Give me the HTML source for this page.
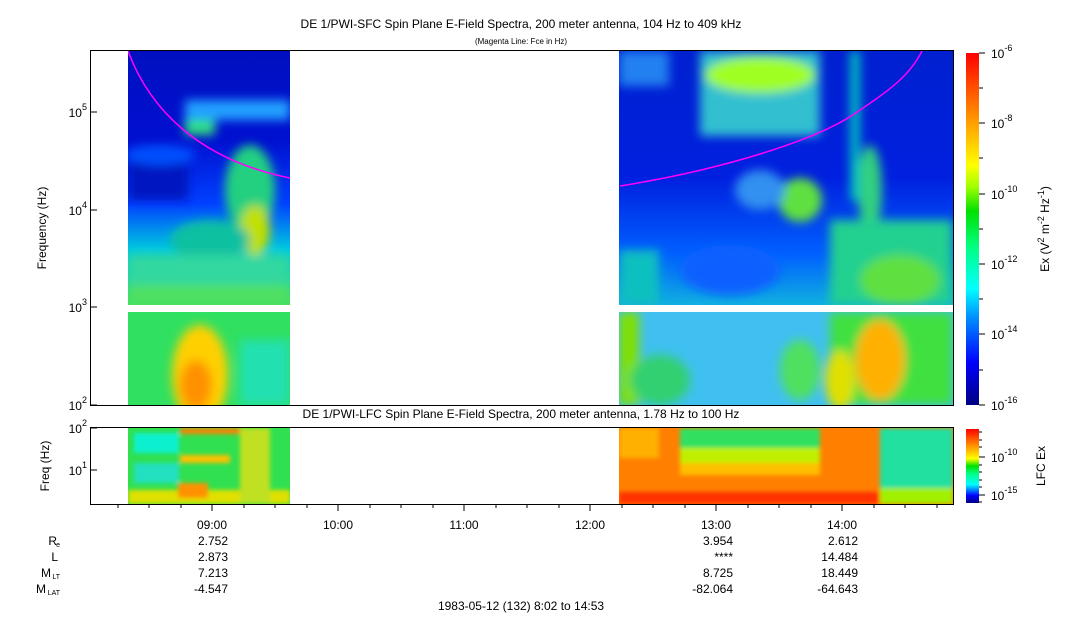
<!DOCTYPE html>
<html><head><meta charset="utf-8"><style>
body{margin:0;background:#fff;}
svg{display:block;font-family:"Liberation Sans",Arial,sans-serif;}
</style></head><body>
<svg width="1083" height="620" viewBox="0 0 1083 620" xmlns="http://www.w3.org/2000/svg">
<defs>
<filter id="b" x="-20%" y="-20%" width="140%" height="140%"><feGaussianBlur stdDeviation="5"/></filter>
<filter id="b2" x="-20%" y="-20%" width="140%" height="140%"><feGaussianBlur stdDeviation="2"/></filter>
<clipPath id="cL1"><rect x="128" y="51" width="162" height="254"/></clipPath>
<clipPath id="cL2"><rect x="128" y="312" width="162" height="93"/></clipPath>
<clipPath id="cR1"><rect x="619" y="51" width="334" height="254"/></clipPath>
<clipPath id="cR2"><rect x="619" y="312" width="334" height="93"/></clipPath>
<clipPath id="cLL"><rect x="128" y="428" width="162" height="76"/></clipPath>
<clipPath id="cRL"><rect x="619" y="428" width="334" height="76"/></clipPath>
<linearGradient id="cb" x1="0" y1="1" x2="0" y2="0">
<stop offset="0" stop-color="#000080"/><stop offset="0.12" stop-color="#0000ff"/>
<stop offset="0.25" stop-color="#0090ff"/><stop offset="0.33" stop-color="#00ffff"/>
<stop offset="0.45" stop-color="#00ff80"/><stop offset="0.55" stop-color="#00e000"/>
<stop offset="0.62" stop-color="#a0ff00"/><stop offset="0.68" stop-color="#ffff00"/>
<stop offset="0.8" stop-color="#ffa000"/><stop offset="1" stop-color="#ff0000"/>
</linearGradient>
<linearGradient id="cb2" x1="0" y1="1" x2="0" y2="0">
<stop offset="0" stop-color="#000080"/><stop offset="0.1" stop-color="#0000ff"/>
<stop offset="0.25" stop-color="#00ffff"/><stop offset="0.4" stop-color="#00ff80"/>
<stop offset="0.5" stop-color="#00e000"/><stop offset="0.6" stop-color="#ffff00"/>
<stop offset="0.8" stop-color="#ff8000"/><stop offset="1" stop-color="#ff0000"/>
</linearGradient>
<linearGradient id="gL1" x1="0" y1="0" x2="0" y2="1">
<stop offset="0" stop-color="#0010c0"/><stop offset="0.35" stop-color="#0010d0"/>
<stop offset="0.6" stop-color="#0040ff"/><stop offset="0.78" stop-color="#00c8e0"/><stop offset="1" stop-color="#40e060"/>
</linearGradient>
<linearGradient id="gR1" x1="0" y1="0" x2="0" y2="1">
<stop offset="0" stop-color="#0020d0"/><stop offset="0.5" stop-color="#0020e0"/>
<stop offset="0.8" stop-color="#0060ff"/><stop offset="1" stop-color="#10b0e0"/>
</linearGradient>
</defs>

<text x="521" y="28" font-size="12" text-anchor="middle">DE 1/PWI-SFC  Spin Plane E-Field Spectra, 200 meter antenna, 104 Hz to 409 kHz</text>
<text x="521" y="44" font-size="8" text-anchor="middle">(Magenta Line: Fce in Hz)</text>
<text x="521" y="418" font-size="12" text-anchor="middle">DE 1/PWI-LFC  Spin Plane E-Field Spectra, 200 meter antenna, 1.78 Hz to 100 Hz</text>

<g clip-path="url(#cL1)">
<rect x="128" y="51" width="162" height="254" fill="url(#gL1)"/>
<g filter="url(#b)">
<rect x="185" y="100" width="105" height="20" fill="#20a0ff"/>
<rect x="185" y="120" width="30" height="15" fill="#30e080"/>
<ellipse cx="250" cy="190" rx="25" ry="45" fill="#20d080"/>
<ellipse cx="255" cy="230" rx="15" ry="25" fill="#c0e000"/>
<ellipse cx="210" cy="240" rx="40" ry="20" fill="#10c0a0"/>
<rect x="128" y="255" width="162" height="50" fill="#30d8a0"/>
<rect x="128" y="285" width="162" height="20" fill="#50e060"/>
<rect x="128" y="160" width="60" height="40" fill="#0018c0"/>
<ellipse cx="160" cy="155" rx="35" ry="10" fill="#0050ff"/>
</g>
<path d="M128,51 C150,110 200,160 290,178" stroke="#ff00ff" stroke-width="1.5" fill="none"/>
</g>
<g clip-path="url(#cL2)">
<rect x="128" y="312" width="162" height="93" fill="#30e060"/>
<g filter="url(#b)">
<ellipse cx="200" cy="375" rx="28" ry="50" fill="#ffd000"/>
<ellipse cx="196" cy="385" rx="16" ry="25" fill="#ff9000"/>
<rect x="240" y="340" width="50" height="65" fill="#20e0b0"/>
</g>
</g>

<g clip-path="url(#cR1)">
<rect x="619" y="51" width="334" height="254" fill="url(#gR1)"/>
<g filter="url(#b)">
<rect x="700" y="51" width="120" height="85" fill="#30c0d0"/>
<ellipse cx="760" cy="75" rx="55" ry="18" fill="#a0ff20"/>
<rect x="619" y="51" width="50" height="35" fill="#2080f0"/>
<ellipse cx="800" cy="200" rx="22" ry="22" fill="#60e040"/>
<ellipse cx="870" cy="190" rx="12" ry="45" fill="#30d080"/>
<ellipse cx="760" cy="190" rx="25" ry="20" fill="#3090f0"/>
<rect x="619" y="250" width="40" height="55" fill="#10c0c0"/>
<rect x="830" y="220" width="123" height="85" fill="#20d090"/>
<ellipse cx="900" cy="280" rx="40" ry="25" fill="#60e040"/>
<rect x="850" y="51" width="10" height="150" fill="#00c0c0"/>
<ellipse cx="730" cy="270" rx="50" ry="25" fill="#1060ff"/>
</g>
<path d="M620,186 C720,170 820,140 860,110 C890,90 910,75 922,51" stroke="#ff00ff" stroke-width="1.5" fill="none"/>
</g>
<g clip-path="url(#cR2)">
<rect x="619" y="312" width="334" height="93" fill="#40c0f0"/>
<g filter="url(#b)">
<rect x="619" y="312" width="20" height="93" fill="#80e000"/>
<ellipse cx="660" cy="380" rx="30" ry="25" fill="#30d070"/>
<rect x="830" y="312" width="123" height="93" fill="#40e040"/>
<ellipse cx="880" cy="360" rx="25" ry="40" fill="#ffb000"/>
<ellipse cx="840" cy="380" rx="15" ry="30" fill="#e0e000"/>
<ellipse cx="800" cy="370" rx="20" ry="30" fill="#50e060"/>
</g>
</g>
<rect x="128" y="305" width="825" height="7" fill="#fff"/>

<g clip-path="url(#cLL)">
<rect x="128" y="428" width="162" height="76" fill="#30e050"/>
<g filter="url(#b2)">
<rect x="134" y="433" width="45" height="20" fill="#10f0d0"/>
<rect x="134" y="463" width="45" height="20" fill="#20e0c0"/>
<rect x="180" y="428" width="60" height="6" fill="#ff8000"/>
<rect x="180" y="455" width="50" height="8" fill="#ffc000"/>
<rect x="128" y="490" width="162" height="14" fill="#e0e000"/>
<rect x="240" y="428" width="30" height="76" fill="#c0e020"/>
<rect x="178" y="483" width="30" height="15" fill="#ff9000"/>
</g>
</g>
<g clip-path="url(#cRL)">
<rect x="619" y="428" width="334" height="76" fill="#ff8000"/>
<g filter="url(#b2)">
<rect x="680" y="428" width="140" height="20" fill="#30e060"/>
<rect x="680" y="448" width="140" height="15" fill="#c0f000"/>
<rect x="680" y="463" width="140" height="12" fill="#ffc000"/>
<rect x="619" y="492" width="265" height="12" fill="#ff3000"/>
<rect x="880" y="428" width="73" height="76" fill="#20e0a0"/>
<rect x="880" y="488" width="73" height="16" fill="#a0f000"/>
<rect x="619" y="428" width="40" height="30" fill="#ffb000"/>
</g>
</g>

<rect x="90.5" y="50.5" width="863" height="355" fill="none" stroke="#000"/>
<rect x="90.5" y="427.5" width="863" height="77" fill="none" stroke="#000"/>

<g stroke="#000">
<line x1="90" y1="405" x2="97" y2="405"/><line x1="90" y1="307" x2="97" y2="307"/>
<line x1="90" y1="210" x2="97" y2="210"/><line x1="90" y1="112" x2="97" y2="112"/>
<line x1="90" y1="428" x2="97" y2="428"/><line x1="90" y1="470" x2="97" y2="470"/>
</g>
<g font-size="12" text-anchor="end">
<text x="87" y="410">10<tspan font-size="9" dy="-7">2</tspan></text>
<text x="87" y="312">10<tspan font-size="9" dy="-7">3</tspan></text>
<text x="87" y="215">10<tspan font-size="9" dy="-7">4</tspan></text>
<text x="87" y="117">10<tspan font-size="9" dy="-7">5</tspan></text>
<text x="87" y="433">10<tspan font-size="9" dy="-7">2</tspan></text>
<text x="87" y="475">10<tspan font-size="9" dy="-7">1</tspan></text>
</g>
<text transform="translate(46,228) rotate(-90)" font-size="12" text-anchor="middle">Frequency (Hz)</text>
<text transform="translate(49,466) rotate(-90)" font-size="12" text-anchor="middle">Freq (Hz)</text>

<g stroke="#000">
<line x1="118" y1="505" x2="118" y2="508"/><line x1="149" y1="505" x2="149" y2="508"/><line x1="181" y1="505" x2="181" y2="508"/>
<line x1="212" y1="505" x2="212" y2="511"/><line x1="244" y1="505" x2="244" y2="508"/><line x1="275" y1="505" x2="275" y2="508"/><line x1="307" y1="505" x2="307" y2="508"/>
<line x1="338" y1="505" x2="338" y2="511"/><line x1="370" y1="505" x2="370" y2="508"/><line x1="401" y1="505" x2="401" y2="508"/><line x1="433" y1="505" x2="433" y2="508"/>
<line x1="464" y1="505" x2="464" y2="511"/><line x1="496" y1="505" x2="496" y2="508"/><line x1="527" y1="505" x2="527" y2="508"/><line x1="559" y1="505" x2="559" y2="508"/>
<line x1="590" y1="505" x2="590" y2="511"/><line x1="622" y1="505" x2="622" y2="508"/><line x1="653" y1="505" x2="653" y2="508"/><line x1="685" y1="505" x2="685" y2="508"/>
<line x1="716" y1="505" x2="716" y2="511"/><line x1="748" y1="505" x2="748" y2="508"/><line x1="779" y1="505" x2="779" y2="508"/><line x1="811" y1="505" x2="811" y2="508"/>
<line x1="842" y1="505" x2="842" y2="511"/><line x1="874" y1="505" x2="874" y2="508"/><line x1="905" y1="505" x2="905" y2="508"/><line x1="937" y1="505" x2="937" y2="508"/>
</g>
<g font-size="12" text-anchor="middle">
<text x="212" y="529">09:00</text><text x="338" y="529">10:00</text><text x="464" y="529">11:00</text>
<text x="590" y="529">12:00</text><text x="716" y="529">13:00</text><text x="842" y="529">14:00</text>
</g>
<g font-size="12" text-anchor="end">
<text x="57" y="545">R</text><text x="60" y="547" font-size="7">e</text>
<text x="58" y="561">L</text>
<text x="51" y="577">M</text><text x="60" y="579" font-size="7">LT</text>
<text x="46" y="593">M</text><text x="60" y="595" font-size="7">LAT</text>
<text x="228" y="545">2.752</text><text x="228" y="561">2.873</text><text x="228" y="577">7.213</text><text x="228" y="593">-4.547</text>
<text x="733" y="545">3.954</text><text x="733" y="561">****</text><text x="733" y="577">8.725</text><text x="733" y="593">-82.064</text>
<text x="858" y="545">2.612</text><text x="858" y="561">14.484</text><text x="858" y="577">18.449</text><text x="858" y="593">-64.643</text>
</g>
<text x="521" y="610" font-size="12" text-anchor="middle">1983-05-12 (132) 8:02 to 14:53</text>

<rect x="966" y="53" width="13" height="352" fill="url(#cb)"/>
<g stroke="#000">
<line x1="979" y1="53" x2="985" y2="53"/><line x1="979" y1="88" x2="983" y2="88"/>
<line x1="979" y1="123" x2="985" y2="123"/><line x1="979" y1="158" x2="983" y2="158"/>
<line x1="979" y1="194" x2="985" y2="194"/><line x1="979" y1="229" x2="983" y2="229"/>
<line x1="979" y1="264" x2="985" y2="264"/><line x1="979" y1="299" x2="983" y2="299"/>
<line x1="979" y1="334" x2="985" y2="334"/><line x1="979" y1="370" x2="983" y2="370"/>
<line x1="979" y1="405" x2="985" y2="405"/>
</g>
<g font-size="12">
<text x="991" y="58">10<tspan font-size="9" dy="-7">-6</tspan></text>
<text x="991" y="128">10<tspan font-size="9" dy="-7">-8</tspan></text>
<text x="991" y="199">10<tspan font-size="9" dy="-7">-10</tspan></text>
<text x="991" y="269">10<tspan font-size="9" dy="-7">-12</tspan></text>
<text x="991" y="339">10<tspan font-size="9" dy="-7">-14</tspan></text>
<text x="991" y="410">10<tspan font-size="9" dy="-7">-16</tspan></text>
</g>
<text transform="translate(1049,229) rotate(-90)" font-size="12" text-anchor="middle">Ex (V<tspan font-size="9" dy="-5">2</tspan><tspan dy="5"> m</tspan><tspan font-size="9" dy="-5">-2</tspan><tspan dy="5"> Hz</tspan><tspan font-size="9" dy="-5">-1</tspan><tspan dy="5">)</tspan></text>

<rect x="966" y="429" width="13" height="74" fill="url(#cb2)"/>
<g stroke="#000">
<line x1="979" y1="457" x2="985" y2="457"/><line x1="979" y1="495" x2="985" y2="495"/>
<line x1="979" y1="432" x2="982" y2="432"/><line x1="979" y1="440" x2="982" y2="440"/><line x1="979" y1="447" x2="982" y2="447"/>
<line x1="979" y1="465" x2="982" y2="465"/><line x1="979" y1="472" x2="982" y2="472"/><line x1="979" y1="480" x2="982" y2="480"/><line x1="979" y1="487" x2="982" y2="487"/><line x1="979" y1="502" x2="982" y2="502"/>
</g>
<g font-size="12">
<text x="991" y="462">10<tspan font-size="9" dy="-7">-10</tspan></text>
<text x="991" y="500">10<tspan font-size="9" dy="-7">-15</tspan></text>
</g>
<text transform="translate(1045,466) rotate(-90)" font-size="12" text-anchor="middle">LFC Ex</text>
</svg>
</body></html>
